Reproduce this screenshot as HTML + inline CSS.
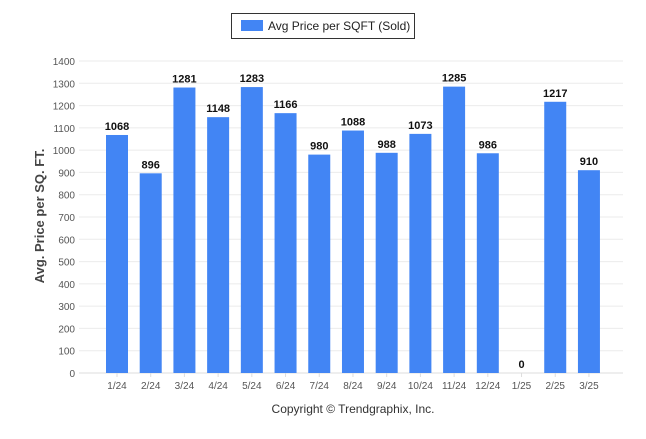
<!DOCTYPE html>
<html><head><meta charset="utf-8"><style>
body{margin:0;background:#fff;}
svg text{font-family:"Liberation Sans",Arial,sans-serif;}
</style></head><body>
<svg width="646" height="434">
<g>
<rect x="231.5" y="13.5" width="183" height="25" fill="#fff" stroke="#333"/>
<rect x="241" y="20" width="22" height="11" fill="#4285f4"/>
<text x="268" y="30" font-size="12" fill="#222">Avg Price per SQFT (Sold)</text>
</g>
<text transform="translate(44,216) rotate(-90)" text-anchor="middle" font-size="13" font-weight="bold" fill="#444">Avg. Price per SQ. FT.</text>
<text x="353" y="413" text-anchor="middle" font-size="12" fill="#333">Copyright © Trendgraphix, Inc.</text>
<g id="grid"></g><g id="bars"></g>
</svg>
<script>
const categories=["1/24","2/24","3/24","4/24","5/24","6/24","7/24","8/24","9/24","10/24","11/24","12/24","1/25","2/25","3/25"];
const values=[1068,896,1281,1148,1283,1166,980,1088,988,1073,1285,986,0,1217,910];
const yTicks=[0,100,200,300,400,500,600,700,800,900,1000,1100,1200,1300,1400];
const NS="http://www.w3.org/2000/svg";
const y0=373,y1=61,vmax=1400;
function y(v){return y0-(v/vmax)*(y0-y1);}
function x(i){return 117+i*33.71;}
const grid=document.getElementById('grid'),bars=document.getElementById('bars');
function mk(tag,attrs,parent){const e=document.createElementNS(NS,tag);for(const k in attrs)e.setAttribute(k,attrs[k]);parent.appendChild(e);return e;}
yTicks.forEach(t=>{
 const l=mk('line',{x1:79,x2:623,y1:y(t),y2:y(t),stroke:t===0?'#ddd':'#ebebeb'},grid);
 
 
 const tx=mk('text',{x:75,y:y(t)+4,'text-anchor':'end','font-size':'10',fill:'#555'},grid);
 tx.textContent=t;
 
 
});
categories.forEach((c,i)=>{
 const tk=mk('line',{x1:x(i),x2:x(i),y1:y0,y2:y0+4,stroke:'#ddd'},grid);
 
 
 const lb=mk('text',{x:x(i),y:389,'text-anchor':'middle','font-size':'10',fill:'#555'},grid);
 lb.textContent=c;
 
 
 const v=values[i];
 if(v>0){
  const r=mk('rect',{x:x(i)-11,y:y(v),width:22,height:y0-y(v),fill:'#4285f4'},bars);
  
  
 }
 const vl=mk('text',{x:x(i),y:y(v)-5,'text-anchor':'middle','font-size':'11','font-weight':'bold',fill:'#111'},bars);
 vl.textContent=v;
 
 
});
</script>
</body></html>
